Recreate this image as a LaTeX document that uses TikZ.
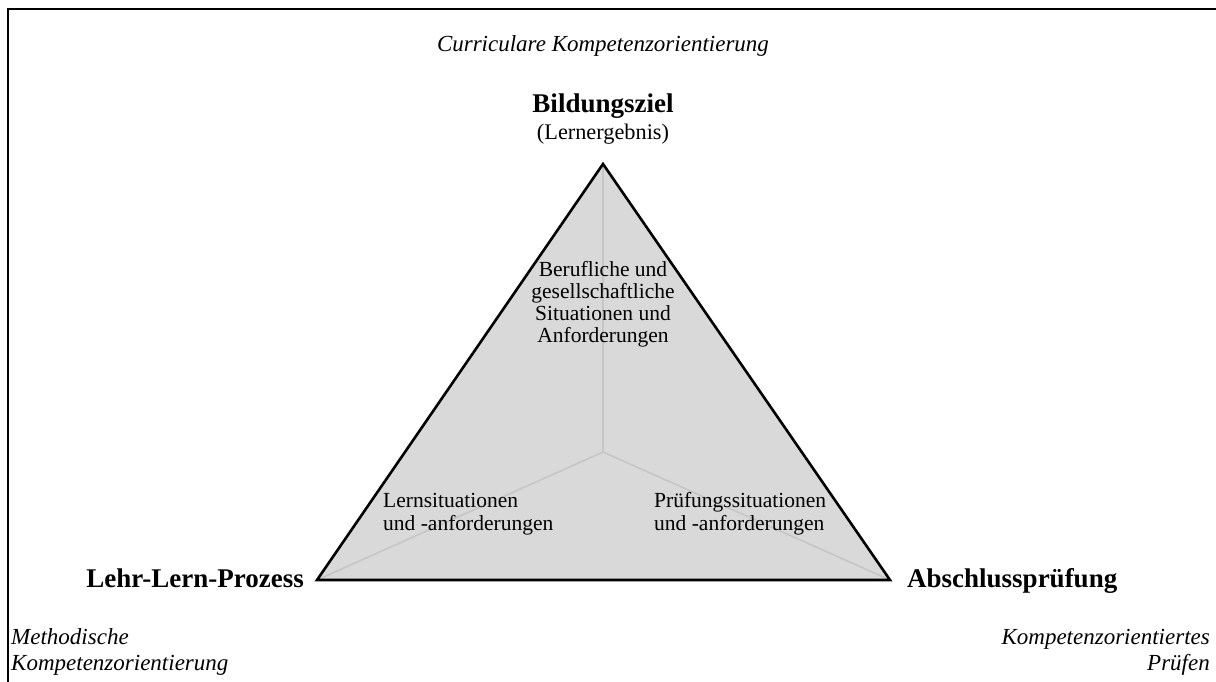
\documentclass[tikz,border=0pt]{standalone}
\usepackage{fontspec}
\setmainfont{Liberation Serif}
\definecolor{trifill}{HTML}{D9D9D9}
\definecolor{spokegray}{HTML}{C6C6C6}
\begin{document}
\begin{tikzpicture}[x=1pt,y=-1pt,
  frameline/.style={line width=2.6pt,black},
  spoke/.style={line width=1.6pt,spokegray},
  outline/.style={line width=2.6pt,black,line join=miter},
  corner/.style={font=\fontsize{23}{26}\selectfont\itshape,inner sep=0pt},
  vertexlbl/.style={font=\fontsize{27}{30}\selectfont\bfseries,inner sep=0pt},
  sublbl/.style={font=\fontsize{22.3}{27}\selectfont,inner sep=0pt},
  inner/.style={font=\fontsize{21.5}{21.7}\selectfont,inner sep=0pt},
  pair/.style={font=\fontsize{21.5}{23}\selectfont,inner sep=0pt}]
\useasboundingbox (0,0) rectangle (1216,682);

% open frame: top and left edges
\coordinate (fTL) at (8,9);
\coordinate (fTR) at (1216,9);
\coordinate (fBL) at (8,682);
\draw[frameline] (fBL) -- (fTL) -- (fTR);

% triangle corners and centre
\coordinate (top) at (603,164);
\coordinate (left) at (317,580);
\coordinate (right) at (890,580);
\coordinate (mid) at (603,452);

\fill[trifill] (top) -- (left) -- (right) -- cycle;
\draw[spoke] (mid) -- (top);
\draw[spoke] (mid) -- (left);
\draw[spoke] (mid) -- (right);
\draw[outline] (top) -- (left) -- (right) -- cycle;

% headings
\node[corner,anchor=base] (curr) at (603,52) {Curriculare Kompetenzorientierung};
\node[vertexlbl,anchor=base] (ziel) at (603,113) {Bildungsziel};
\node[sublbl,anchor=base] (lern) at (603,140) {(Lernergebnis)};

% texts inside the triangle (anchored at the baseline of their last line)
\node[inner,align=center,anchor=base] (beruf) at (603,342)
  {Berufliche und\\gesellschaftliche\\Situationen und\\Anforderungen};
\node[pair,align=left,anchor=base west] (lsit) at (383,530)
  {Lernsituationen\\und -anforderungen};
\node[pair,align=left,anchor=base west] (psit) at (654,530)
  {Prüfungssituationen\\und -anforderungen};

% vertex labels
\node[vertexlbl,anchor=base east] (prozess) at (304,587) {Lehr-Lern-Prozess};
\node[vertexlbl,anchor=base west] (pruef) at (907,587) {Abschlussprüfung};

% bottom corner notes
\node[corner,align=left,anchor=base west] (meth) at (11,670)
  {Methodische\\Kompetenzorientierung};
\node[corner,align=right,anchor=base east] (kompp) at (1210,670)
  {Kompetenzorientiertes\\Prüfen};
\end{tikzpicture}
\end{document}
